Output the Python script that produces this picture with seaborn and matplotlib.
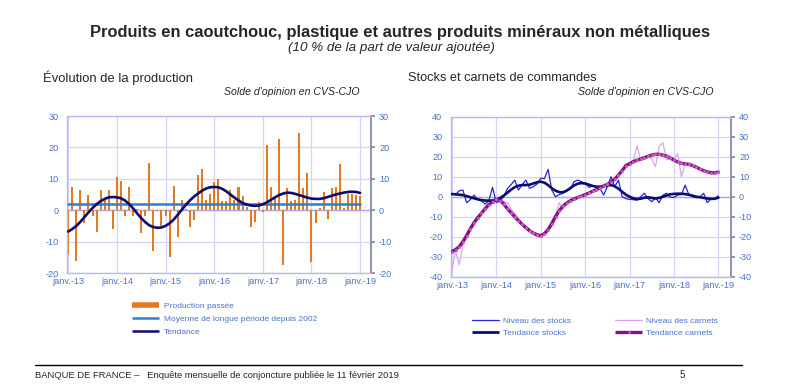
import numpy as np
import pandas as pd
import matplotlib
matplotlib.use("Agg")
import matplotlib.pyplot as plt
from matplotlib.lines import Line2D
import seaborn as sns

# month index: 0 = janv.-13 ... 72 = janv.-19
tick_labels = ['janv.-13', 'janv.-14', 'janv.-15', 'janv.-16', 'janv.-17', 'janv.-18', 'janv.-19']

# left chart: production passée (monthly balance of opinion)
production = [-14, 7.5, -16.3, 6.3, -4, 5, -2, -7, 6.5, 4, 6.3, -6,
              10.7, 9.3, -2, 7.5, -1.7, 0.5, -7.3, -2, 15, -13, -0.3, -5,
              -2, -15, 7.7, -8.5, 3.2, 0.3, -5.3, -3, 11.2, 13, 3.4, 5.3,
              9, 10, 3, 3, 6.4, 3.4, 7.5, 4.5, 1, -5.3, -3.6, 2.6,
              -0.5, 20.7, 7.5, 4, 22.8, -17.5, 7, 3, 3.2, 24.5, 7, 12,
              -16.5, -4, 0.7, 5.9, -2.7, 7.2, 7.3, 14.8, 0.8, 5.3, 5.3, 4.8,
              4.5]
moyenne = 1.9
tendance = [-6.8, -6.0, -5.0, -3.7, -2.2, -0.7, 0.7, 1.9, 2.9, 3.6, 4.1, 4.2,
            4.1, 3.8, 3.1, 2.0, 0.6, -1.0, -2.5, -3.8, -4.8, -5.4, -5.6, -5.5,
            -5.0, -4.2, -3.0, -1.5, 0.1, 1.7, 3.1, 4.3, 5.3, 6.2, 6.9, 7.3,
            7.4, 7.3, 6.8, 6.0, 5.0, 4.0, 3.1, 2.3, 1.8, 1.5, 1.4, 1.5,
            1.9, 2.5, 3.3, 4.1, 4.8, 5.3, 5.6, 5.5, 5.2, 4.8, 4.4, 4.0,
            3.7, 3.6, 3.6, 3.8, 4.2, 4.6, 5.0, 5.3, 5.6, 5.8, 5.9, 5.8,
            5.5]

# right chart: stocks et carnets
stocks = [1.7, 1, 3, 3.3, -3, -1.5, 0.8, -1.5, -2, -3.7, -2, 4.7,
          -3, -2, 0, 4, 6, 8.3, 3.3, 6, 8.3, 4.2, 5, 6.3,
          9.2, 9, 13.7, 3.3, 0, 1, 1.7, 3, 3.7, 7.5, 8.3, 7.5,
          6.7, 4.7, 5.3, 5, 4.2, 0.8, 5, 10, 5, 8.3, 0, -1,
          -1.3, -1.5, -1.7, 0, 1.7, -1, -2.5, -0.5, -3, 0.8, 1.7, -0.3,
          -0.3, 0.8, 1, 5.8, 1, 0, -0.5, 0, 1.7, -3, -1, -1,
          0.5]
tendance_stocks = [1.3, 1.2, 1.0, 0.8, 0.3, -0.3, -0.8, -1.3, -1.7, -1.9, -2, -1.9,
                   -1.5, -0.7, 0.5, 2, 3.5, 4.8, 5.5, 5.8, 5.8, 6, 6.6, 7.2,
                   7.5, 7, 5.8, 4.2, 3, 2.3, 2.2, 3, 4.3, 5.6, 6.5, 6.8,
                   6.6, 6, 5.4, 5, 5, 5.3, 5.7, 5.8, 5.2, 4, 2.5, 1,
                   0, -0.8, -1.2, -1, -0.5, -0.3, -0.6, -0.9, -0.6, 0, 0.6, 1.2,
                   1.4, 1.5, 1.5, 1.3, 1, 0.5, 0, -0.3, -0.6, -0.9, -1.1, -1,
                   -0.5]
carnets = [-37, -27, -34, -24, -20, -17, -14, -11, -9, -6.5, -4, -2.5,
           -1, -0.5, -2.5, -3, -6, -8.5, -11, -14, -15, -16, -19, -20,
           -20.5, -19, -16, -12, -10, -3, -6, -3.5, -1.5, -1, 0, 0.5,
           1, 1.5, 3, 3.5, 4.5, 5.5, 6, 7.5, 9, 11, 13, 16,
           17, 18, 25.5, 18, 19, 20, 19, 15, 25, 27, 18.5, 19,
           19, 21.5, 10, 16.5, 16.5, 15.5, 15, 14, 13, 12, 11.5, 12,
           12.5]
tendance_carnets = [-27.5, -26.5, -25, -22.5, -19.5, -16, -13, -10.5, -8.3, -6, -4, -2.5,
                    -1.3, -2, -3.5, -6, -8, -10, -12, -13.8, -15.5, -17, -18.2, -19,
                    -19.5, -18.5, -16.5, -13.5, -10, -7, -4.8, -3.2, -2, -1.2, -0.4, 0.3,
                    1, 1.8, 2.7, 3.5, 4.4, 5.3, 6.2, 7.3, 8.8, 10.8, 13, 15.5,
                    16.5, 17.5, 18.2, 18.8, 19.5, 20.2, 20.8, 21.2, 21.2, 20.8, 20.3, 19.3,
                    18.3, 17.3, 16.7, 16.4, 16.2, 15.6, 14.8, 13.8, 13, 12.4, 12, 11.9,
                    12.3]

months = np.arange(len(production))
df_left = pd.DataFrame({'mois': months, 'production': production,
                        'tendance': tendance, 'moyenne': moyenne})
df_right = pd.DataFrame({'mois': months, 'stocks': stocks, 'tendance_stocks': tendance_stocks,
                         'carnets': carnets, 'tendance_carnets': tendance_carnets})

sns.set_theme(style="white")
plt.rcParams['font.family'] = ['Liberation Sans', 'DejaVu Sans']
plt.rcParams['axes.unicode_minus'] = False

tick_col = '#4A72C8'
grid_col = '#D4D4F6'
orange = '#E37A22'
mean_col = '#2E7FD0'
navy = '#0C0C6E'
blue = '#2424D8'
lilac = '#D6A6F0'
purple = '#86117F'

fig = plt.figure(figsize=(7.9, 3.85), dpi=100)
ax1 = fig.add_axes([0.0848, 0.2909, 0.3844, 0.4078])
ax2 = fig.add_axes([0.5705, 0.2813, 0.3544, 0.4156])


def style_axis(ax, ylo, yhi, xhi):
    ax.set_xlim(-0.3, xhi)
    ax.set_ylim(ylo, yhi)
    ax.set_yticks(np.arange(ylo, yhi + 1, 10))
    ax.set_xticks(np.arange(0, 73, 12))
    ax.set_xticklabels(tick_labels)
    ax.grid(True, color=grid_col, lw=0.9)
    ax.set_axisbelow(True)
    ax.tick_params(axis='both', labelsize=6.6, colors=tick_col, length=0, pad=3)
    ax.tick_params(axis='y', right=True, labelright=True, length=0)
    ax.tick_params(axis='y', which='major', right=True, length=3, color='#8888AA', direction='out')
    ax.tick_params(axis='y', left=False)
    ax.set_xlabel('')
    ax.set_ylabel('')
    for side in ['left', 'top', 'bottom']:
        ax.spines[side].set_color('#B8B8EC')
        ax.spines[side].set_linewidth(1)
    ax.spines['right'].set_color('#8888AA')
    ax.spines['right'].set_linewidth(1.3)
    ax.axhline(0, color='#A8A8E8', lw=1, zorder=1)


# left chart
sns.barplot(data=df_left, x='mois', y='production', native_scale=True, width=0.5,
            color=orange, saturation=1, linewidth=0, edgecolor=orange, ax=ax1, zorder=2)
sns.lineplot(data=df_left, x='mois', y='moyenne', color=mean_col, lw=1.8, ax=ax1, zorder=3)
sns.lineplot(data=df_left, x='mois', y='tendance', color=navy, lw=1.9, ax=ax1, zorder=4)
style_axis(ax1, -20, 30, 74.6)

# right chart
sns.lineplot(data=df_right, x='mois', y='carnets', color=lilac, lw=0.9, ax=ax2, zorder=2)
sns.lineplot(data=df_right, x='mois', y='stocks', color=blue, lw=0.9, ax=ax2, zorder=3)
sns.lineplot(data=df_right, x='mois', y='tendance_stocks', color=navy, lw=1.9, ax=ax2, zorder=4)
sns.lineplot(data=df_right, x='mois', y='tendance_carnets', color=purple, lw=2.4, ax=ax2, zorder=5,
             marker='o', markersize=2.2, markeredgewidth=0, markerfacecolor='#C45EC4')
style_axis(ax2, -40, 40, 75.3)

# titles
fig.text(0.507, 1 - 33 / 385, 'Produits en caoutchouc, plastique et autres produits minéraux non métalliques',
         ha='center', va='center', fontsize=11.9, weight='bold')
fig.text(0.495, 1 - 48 / 385, '(10 % de la part de valeur ajoutée)', ha='center', va='center',
         fontsize=9.6, style='italic')
fig.text(43 / 790, 1 - 78 / 385, 'Évolution de la production', va='center', fontsize=9.4)
fig.text(360 / 790, 1 - 92 / 385, "Solde d'opinion en CVS-CJO", ha='right', va='center',
         fontsize=7.6, style='italic')
fig.text(408 / 790, 1 - 78 / 385, 'Stocks et carnets de commandes', va='center', fontsize=9.2)
fig.text(713 / 790, 1 - 92 / 385, "Solde d'opinion en CVS-CJO", ha='right', va='center',
         fontsize=7.6, style='italic')

# legends
h_left = [Line2D([], [], color=orange, lw=4, solid_capstyle='butt'),
          Line2D([], [], color=mean_col, lw=1.8, solid_capstyle='butt'),
          Line2D([], [], color=navy, lw=1.8, solid_capstyle='butt')]
fig.legend(h_left, ['Production passée', 'Moyenne de longue période depuis 2002', 'Tendance'],
           loc='upper left', bbox_to_anchor=(128 / 790, 1 - 298 / 385), frameon=False,
           fontsize=6, labelcolor=tick_col, handlelength=3.2, handletextpad=0.6,
           labelspacing=0.62, borderpad=0)

h_right = [Line2D([], [], color=blue, lw=0.9),
           Line2D([], [], color=navy, lw=2, solid_capstyle='butt'),
           Line2D([], [], color=lilac, lw=0.9),
           Line2D([], [], color=purple, lw=2.4, marker='o', markersize=2, markeredgewidth=0,
                  markerfacecolor='#C45EC4', markevery=0.1, solid_capstyle='butt')]
fig.legend(h_right, ['Niveau des stocks', 'Tendance stocks', 'Niveau des carnets', 'Tendance carnets'],
           ncol=2, loc='upper left', bbox_to_anchor=(468 / 790, 1 - 313 / 385), frameon=False,
           fontsize=6, labelcolor=tick_col, handlelength=3.2, handletextpad=0.5,
           labelspacing=0.45, columnspacing=5.3, borderpad=0)

# footer
fig.add_artist(Line2D([35 / 790, 742 / 790], [1 - 365 / 385, 1 - 365 / 385], color='black', lw=1))
fig.text(35 / 790, 1 - 375 / 385,
         'BANQUE DE FRANCE \u2013   Enquête mensuelle de conjoncture publiée le 11 février 2019',
         va='center', fontsize=6.75)
fig.text(680 / 790, 1 - 375 / 385, '5', va='center', fontsize=7)

fig.savefig('out.png', dpi=100)
